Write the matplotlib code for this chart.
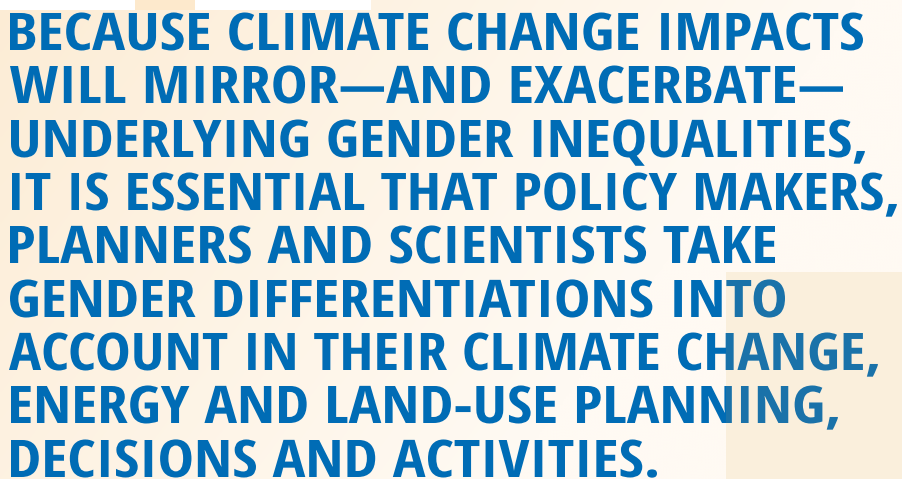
import numpy as np
import matplotlib
matplotlib.use("Agg")
import matplotlib.pyplot as plt
from matplotlib.patches import Rectangle
from matplotlib.patheffects import AbstractPathEffect
from matplotlib.textpath import TextPath
from matplotlib.font_manager import FontProperties
from matplotlib.transforms import Affine2D

# text lines and where they sit (pixels)
lines = [
    "BECAUSE CLIMATE CHANGE IMPACTS",
    "WILL MIRROR\u2014AND EXACERBATE\u2014",
    "UNDERLYING GENDER INEQUALITIES,",
    "IT IS ESSENTIAL THAT POLICY MAKERS,",
    "PLANNERS AND SCIENTISTS TAKE",
    "GENDER DIFFERENTIATIONS INTO",
    "ACCOUNT IN THEIR CLIMATE CHANGE,",
    "ENERGY AND LAND-USE PLANNING,",
    "DECISIONS AND ACTIVITIES.",
]
baselines = [50, 103, 157, 210, 263, 317, 370, 423, 477]
left_edges = [10, 10, 11, 12, 10, 10, 9, 11, 11]
right_edges = [863, 843, 865, 897, 775, 785, 878, 838, 657]

W, H, DPI = 902, 479, 100
cap_px = 37
blue = "#006cb5"


class StretchX(AbstractPathEffect):
    # widen glyphs horizontally about the text anchor
    def __init__(self, sx, x0):
        super().__init__()
        self.sx = sx
        self.x0 = x0

    def draw_path(self, renderer, gc, tpath, affine, rgbFace=None):
        t = affine + Affine2D().translate(-self.x0, 0).scale(self.sx, 1).translate(self.x0, 0)
        renderer.draw_path(gc, tpath, t, rgbFace)


fig = plt.figure(figsize=(W / DPI, H / DPI), dpi=DPI)
ax = fig.add_axes([0, 0, 1, 1])
ax.set_xlim(0, W)
ax.set_ylim(H, 0)
ax.axis("off")

# background: warm peach fading to cream towards the right
xx, yy = np.meshgrid(np.linspace(0, 1, 300), np.linspace(0, 1, 160))
t = np.clip(0.15 + 0.9 * xx + 0.35 * yy, 0, 1)[..., None]
peach = np.array([252, 234, 208]) / 255
cream = np.array([255, 250, 243]) / 255
ax.imshow(peach * (1 - t) + cream * t, extent=[0, W, H, 0], aspect="auto",
          interpolation="bicubic", zorder=0)
ax.add_patch(Rectangle((0, 0), 135, 10, color="white", lw=0, zorder=1))
ax.add_patch(Rectangle((135, 0), 60, 10, color="#fde9cc", lw=0, zorder=1))
ax.add_patch(Rectangle((195, 0), 176, 10, color="white", lw=0, zorder=1))
ax.add_patch(Rectangle((726, 272), W - 726, H - 272, color="#fffaee", lw=0, zorder=1))

fp = FontProperties(family="Open Sans Condensed", weight="bold")
size_px = cap_px / TextPath((0, 0), "H", size=1, prop=fp).get_extents().height
for s, yb, xl, xr in zip(lines, baselines, left_edges, right_edges):
    ext = TextPath((0, 0), s, size=size_px, prop=fp).get_extents()
    sx = (xr - xl) / ext.width
    x0 = xl - sx * ext.x0
    ax.text(x0, yb, s, fontproperties=fp, fontsize=size_px * 72 / DPI,
            color=blue, ha="left", va="baseline", zorder=2,
            path_effects=[StretchX(sx, x0)])

# muted warm tint over the lower right block
ax.add_patch(Rectangle((726, 272), W - 726, H - 272, color="#d7a05a",
                       alpha=0.12, lw=0, zorder=3))

fig.savefig("out.png", dpi=DPI)
